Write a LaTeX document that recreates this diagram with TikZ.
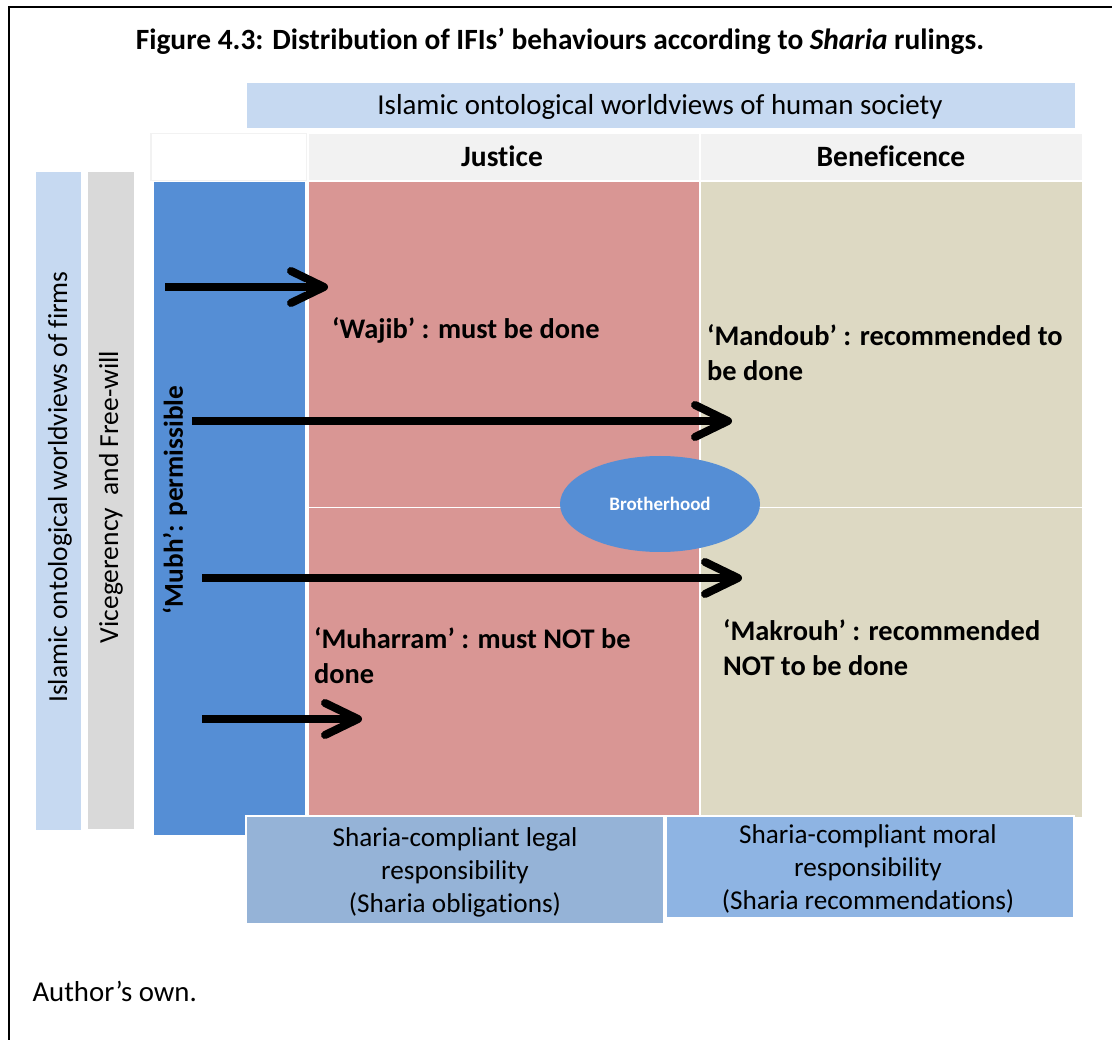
\documentclass[tikz,border=0pt]{standalone}
\usepackage{fontspec}
\setmainfont{Carlito}[Ligatures=NoCommon]
\usetikzlibrary{arrows.meta,shapes.geometric}
\definecolor{lblue}{HTML}{C6D9F1}
\definecolor{lgrey}{HTML}{D9D9D9}
\definecolor{hdr}{HTML}{F2F2F2}
\definecolor{mblue}{HTML}{558ED5}
\definecolor{jred}{HTML}{D99694}
\definecolor{btan}{HTML}{DDD9C3}
\definecolor{boxa}{HTML}{95B3D7}
\definecolor{boxb}{HTML}{8EB4E3}
\tikzset{
  panel/.style={anchor=north west, inner sep=0pt, draw=white, line width=1.5pt},
  bigarrow/.style={line width=8pt, -{Straight Barb[length=33pt,width=32pt,round]}},
  lbl/.style={anchor=base west, align=left, inner sep=0pt, font=\fontsize{28.4}{35}\selectfont\bfseries},
  btxt/.style={align=center, font=\fontsize{27.2}{33}\selectfont},
  rot/.style={rotate=90, font=\fontsize{27.5}{33}\selectfont},
}
\begin{document}
\begin{tikzpicture}[x=1pt,y=-1pt]
\useasboundingbox (0,0) rectangle (1112,1040);
% frame
\draw[line width=2pt] (1112,7) -- (9,7) -- (9,1040);
% title
\node[anchor=base, font=\fontsize{29.4}{35}\selectfont\bfseries] (title) at (560,50) {Figure 4.3: Distribution of IFIs’ behaviours according to \textit{Sharia} rulings.};
% top band
\node[panel, fill=lblue, minimum width=830pt, minimum height=46pt] (society) at (245,82) {};
\node[anchor=base, font=\fontsize{28.9}{34}\selectfont] (societyt) at (660,115) {Islamic ontological worldviews of human society};
% header row
\node[panel, fill=white, draw=hdr, minimum width=156pt, minimum height=47pt] (corner) at (150,133) {};
\node[panel, fill=hdr, minimum width=392pt, minimum height=47pt] (justice) at (307,133) {};
\node[panel, fill=hdr, minimum width=383pt, minimum height=47pt] (benef) at (699,133) {};
\node[anchor=base, font=\fontsize{29.5}{35}\selectfont\bfseries] (justicet) at (502,167) {Justice};
\node[anchor=base, font=\fontsize{29.5}{35}\selectfont\bfseries] (beneft) at (891,167) {Beneficence};
% left bands
\node[panel, fill=lblue, minimum width=47pt, minimum height=659pt] (firms) at (34,171) {};
\node[rot] (firmst) at (60,487) {Islamic ontological worldviews of firms};
\node[panel, fill=lgrey, minimum width=48pt, minimum height=658pt] (vice) at (86,171) {};
\node[rot] (vicet) at (111,497) {Vicegerency \ and Free-will};
% main grid
\node[panel, fill=mblue, minimum width=153pt, minimum height=654pt] (mubh) at (152,181) {};
\node[panel, fill=jred, minimum width=392pt, minimum height=326pt] (wajib) at (307,181) {};
\node[panel, fill=jred, minimum width=392pt, minimum height=310pt] (muharram) at (307,507) {};
\node[panel, fill=btan, minimum width=383pt, minimum height=326pt] (mandoub) at (699,181) {};
\node[panel, fill=btan, minimum width=383pt, minimum height=310pt] (makrouh) at (699,507) {};
\node[rot, font=\fontsize{27.3}{33}\selectfont\bfseries] (mubht) at (175,500) {‘Mubh’: permissible};
% labels
\node[lbl] (wajibt) at (332,339) {‘Wajib’ : must be done};
\node[lbl] (mandoubt) at (707,381) {‘Mandoub’ : recommended to\\be done};
\node[lbl] (muharramt) at (314,683) {‘Muharram’ : must NOT be\\done};
\node[lbl] (makrouht) at (723,675) {‘Makrouh’ : recommended\\NOT to be done};
% brotherhood
\node[ellipse, fill=mblue, minimum width=200pt, minimum height=96pt, inner sep=0pt, text=white, font=\fontsize{19}{22}\selectfont\bfseries] (bro) at (660,504) {Brotherhood};
% arrows
\coordinate (a1s) at (165,287); \coordinate (a1e) at (328,287);
\coordinate (a2s) at (192,421); \coordinate (a2e) at (732,421);
\coordinate (a3s) at (202,578); \coordinate (a3e) at (742,578);
\coordinate (a4s) at (202,719); \coordinate (a4e) at (362,719);
\draw[bigarrow] (a1s) -- (a1e);
\draw[bigarrow] (a2s) -- (a2e);
\draw[bigarrow] (a3s) -- (a3e);
\draw[bigarrow] (a4s) -- (a4e);
% bottom boxes
\node[panel, fill=boxa, minimum width=418pt, minimum height=108pt] (legal) at (245,815) {};
\node[btxt] (legalt) at (455,872) {Sharia-compliant legal\\responsibility\\(Sharia obligations)};
\node[panel, fill=boxb, minimum width=408pt, minimum height=102pt] (moral) at (665,815) {};
\node[btxt] (moralt) at (868,869) {Sharia-compliant moral\\responsibility\\(Sharia recommendations)};
% footer
\node[anchor=base west, font=\fontsize{28.8}{34}\selectfont] (author) at (29,1001) {Author’s own.};
\end{tikzpicture}
\end{document}
